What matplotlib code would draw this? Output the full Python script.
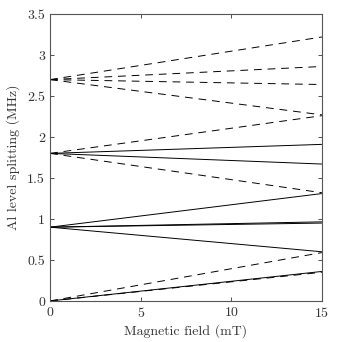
import matplotlib
matplotlib.use("Agg")
import matplotlib.pyplot as plt

plt.rcParams['font.family'] = 'serif'
plt.rcParams['font.serif'] = ['cmr10', 'DejaVu Serif']
plt.rcParams['axes.formatter.use_mathtext'] = True
plt.rcParams['mathtext.fontset'] = 'cm'

field = [0, 15]  # mT

# solid lines: (value at 0 mT, value at 15 mT)
solid_start = [0.0, 0.0, 0.9, 0.9, 0.9, 0.9, 1.8, 1.8]
solid_end   = [0.0, 0.36, 1.31, 0.965, 0.95, 0.60, 1.91, 1.67]

# dashed lines
dashed_start = [0.0, 0.0, 1.8, 1.8, 2.7, 2.7, 2.7, 2.7]
dashed_end   = [0.59, 0.35, 2.26, 1.32, 3.22, 2.86, 2.64, 2.27]

xticks = [0, 5, 10, 15]
yticks = [0, 0.5, 1, 1.5, 2, 2.5, 3, 3.5]
ytick_labels = ['0', '0.5', '1', '1.5', '2', '2.5', '3', '3.5']

fig = plt.figure(figsize=(3.45, 3.42), dpi=100)
ax = fig.add_axes([0.145, 0.12, 0.788, 0.839])

for s, e in zip(solid_start, solid_end):
    ax.plot(field, [s, e], color='black', lw=0.7, solid_capstyle='butt')
for s, e in zip(dashed_start, dashed_end):
    ax.plot(field, [s, e], color='black', lw=0.7, linestyle=(0, (8, 6)))

ax.set_xlim(0, 15)
ax.set_ylim(0, 3.5)
ax.set_xticks(xticks)
ax.set_yticks(yticks)
ax.set_yticklabels(ytick_labels)
ax.tick_params(direction='in', length=3, width=0.6, top=True, right=True,
               labelsize=10, colors='#333333', labelcolor='#333333')
for sp in ax.spines.values():
    sp.set_color('#555555')
    sp.set_linewidth(0.8)
ax.set_xlabel('Magnetic field (mT)', fontsize=10, color='#333333', labelpad=3)
ax.set_ylabel('Al level splitting (MHz)', fontsize=10, color='#333333', labelpad=5)

fig.savefig('out.png', dpi=100)
